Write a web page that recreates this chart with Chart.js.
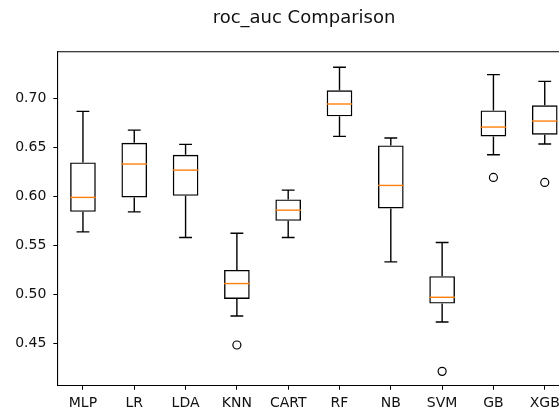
<!DOCTYPE html>
<html>
<head>
<meta charset="utf-8">
<script src="https://cdn.jsdelivr.net/npm/chart.js@4/dist/chart.umd.min.js"></script>
<style>
  html, body { margin: 0; padding: 0; background: #fff; overflow: hidden; }
  #wrap { width: 559px; height: 411px; overflow: hidden; }
  #chart { display: block; }
</style>
</head>
<body>
<div id="wrap"><canvas id="chart" width="600" height="411"></canvas></div>
<script>
// Model names and box statistics
const models = ['MLP', 'LR', 'LDA', 'KNN', 'CART', 'RF', 'NB', 'SVM', 'GB', 'XGB'];
const whiskerLow = [0.5636, 0.584, 0.5578, 0.4779, 0.5578, 0.6609, 0.533, 0.4717, 0.6422, 0.6531];
const q1 = [0.584, 0.5987, 0.6003, 0.4952, 0.5748, 0.6813, 0.5874, 0.4905, 0.6609, 0.6626];
const medians = [0.5987, 0.6327, 0.6265, 0.5109, 0.5857, 0.6939, 0.6109, 0.4969, 0.6704, 0.6765];
const q3 = [0.6344, 0.6544, 0.6422, 0.5248, 0.5966, 0.7078, 0.6517, 0.5184, 0.6874, 0.6925];
const whiskerHigh = [0.6864, 0.6673, 0.6527, 0.5622, 0.6061, 0.7313, 0.6592, 0.5527, 0.7238, 0.717];
const outliers = [null, null, null, 0.4483, null, null, null, 0.4214, 0.6191, 0.614];
const yTicks = [0.45, 0.50, 0.55, 0.60, 0.65, 0.70];

const FONT = 'DejaVu Sans';

// Whiskers, caps, medians and the top/right spines
const boxExtras = {
    id: 'boxExtras',
    afterLayout(chart) {
        // nudge the title so it sits centred like the original figure
        if (chart.titleBlock) chart.titleBlock.left = chart.chartArea.left - 19.7;
    },
    afterDatasetsDraw(chart) {
        const ctx = chart.ctx;
        const xs = chart.scales.x;
        const ys = chart.scales.y;
        const meta = chart.getDatasetMeta(0);
        const area = chart.chartArea;
        ctx.save();
        ctx.lineCap = 'butt';
        for (let i = 0; i < models.length; i++) {
            const x = xs.getPixelForValue(i);
            const w = meta.data[i].width;
            const cap = w / 4;
            ctx.strokeStyle = '#000';
            ctx.lineWidth = 1.4;
            ctx.beginPath();
            ctx.moveTo(x, ys.getPixelForValue(q1[i]));
            ctx.lineTo(x, ys.getPixelForValue(whiskerLow[i]));
            ctx.moveTo(x, ys.getPixelForValue(q3[i]));
            ctx.lineTo(x, ys.getPixelForValue(whiskerHigh[i]));
            ctx.moveTo(x - cap, ys.getPixelForValue(whiskerLow[i]));
            ctx.lineTo(x + cap, ys.getPixelForValue(whiskerLow[i]));
            ctx.moveTo(x - cap, ys.getPixelForValue(whiskerHigh[i]));
            ctx.lineTo(x + cap, ys.getPixelForValue(whiskerHigh[i]));
            ctx.stroke();

            ctx.strokeStyle = '#ff7f0e';
            ctx.beginPath();
            ctx.moveTo(x - w / 2, ys.getPixelForValue(medians[i]));
            ctx.lineTo(x + w / 2, ys.getPixelForValue(medians[i]));
            ctx.stroke();
        }
        ctx.strokeStyle = '#000';
        ctx.lineWidth = 1.1;
        ctx.beginPath();
        ctx.moveTo(area.left, area.top);
        ctx.lineTo(area.right, area.top);
        ctx.lineTo(area.right, area.bottom);
        ctx.stroke();
        ctx.restore();
    }
};

new Chart(document.getElementById('chart'), {
    type: 'bar',
    data: {
        labels: models,
        datasets: [{
            type: 'bar',
            data: models.map((m, i) => [q1[i], q3[i]]),
            backgroundColor: 'rgba(255,255,255,0)',
            borderColor: '#000',
            borderWidth: 1.4,
            borderSkipped: false,
            categoryPercentage: 1,
            barPercentage: 0.5,
            grouped: false
        }, {
            type: 'line',
            data: outliers,
            showLine: false,
            pointRadius: 4,
            pointBorderWidth: 1.2,
            pointBorderColor: '#000',
            pointBackgroundColor: 'rgba(255,255,255,0)'
        }]
    },
    options: {
        responsive: false,
        animation: false,
        layout: { padding: { left: 0, right: 29.6, top: 0, bottom: 0 } },
        plugins: {
            legend: { display: false },
            tooltip: { enabled: false },
            title: {
                display: true,
                text: 'roc_auc Comparison',
                fullSize: false,
                color: '#111',
                font: { family: FONT, size: 18, weight: 'normal' },
                padding: { top: 8, bottom: 22.1 }
            }
        },
        scales: {
            x: {
                type: 'category',
                offset: true,
                grid: { display: true, offset: false, drawOnChartArea: false, drawTicks: true, tickLength: 4, color: '#000', lineWidth: 1 },
                border: { display: true, color: '#000', width: 1.1 },
                ticks: { color: '#111', padding: 5, font: { family: FONT, size: 14 }, maxRotation: 0 },
                afterFit(scale) { scale.height = 25.3; }
            },
            y: {
                min: 0.4068,
                max: 0.7472,
                grid: { display: true, drawOnChartArea: false, drawTicks: true, tickLength: 4, color: '#000', lineWidth: 1 },
                border: { display: true, color: '#000', width: 1.1 },
                ticks: {
                    color: '#111',
                    padding: 7,
                    font: { family: FONT, size: 14 },
                    callback: v => v.toFixed(2)
                },
                afterBuildTicks(scale) { scale.ticks = yTicks.map(v => ({ value: v })); },
                afterFit(scale) { scale.width = 57.3; }
            }
        }
    },
    plugins: [boxExtras]
});
</script>
</body>
</html>
